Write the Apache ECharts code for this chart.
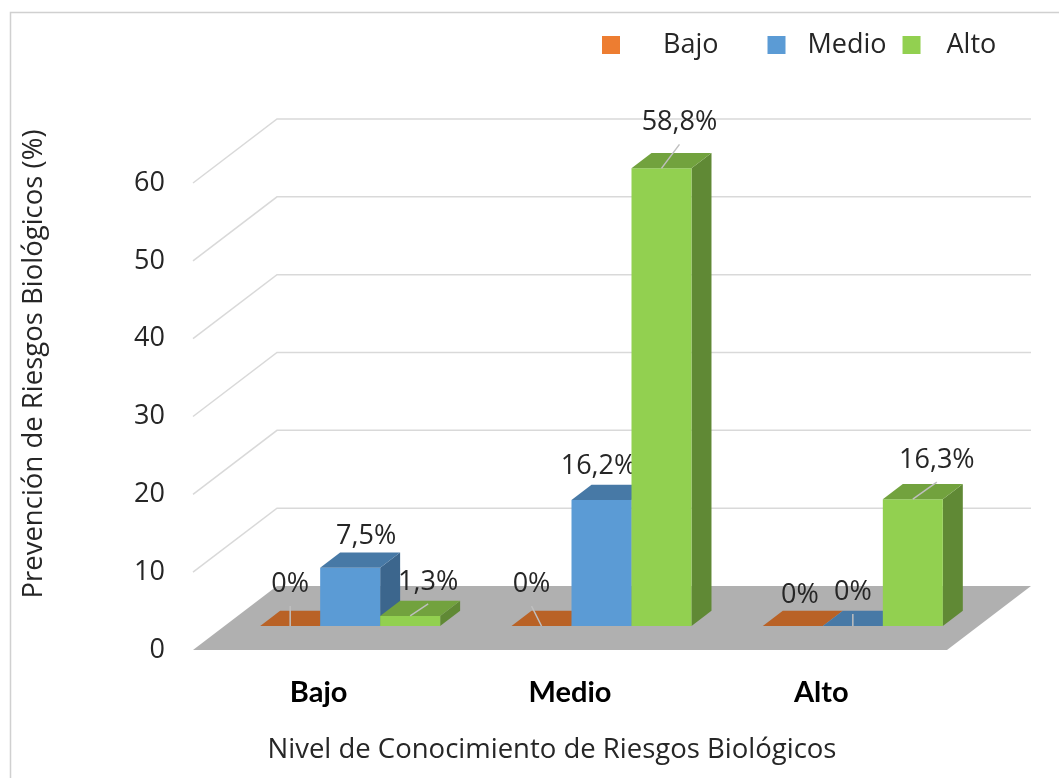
<!DOCTYPE html>
<html>
<head>
<meta charset="utf-8">
<script src="https://cdn.jsdelivr.net/npm/echarts@6/dist/echarts.min.js"></script>
<style>
html,body{margin:0;padding:0;background:#fff;}
#chart{width:1059px;height:778px;}
</style>
</head>
<body>
<div id="chart"></div>
<script>
// ---- data ----
var categories = ['Bajo', 'Medio', 'Alto'];
var seriesNames = ['Bajo', 'Medio', 'Alto'];
var bajoValues = [0, 0, 0];
var medioValues = [7.5, 16.2, 0];
var altoValues = [1.3, 58.8, 16.3];
var yTicks = [0, 10, 20, 30, 40, 50, 60];

// ---- style / layout ----
var colors = ['#ED7D31', '#5B9BD5', '#92D050'];
var DEPTH = {x: 84, y: -64};     // full depth vector of the floor in px
var F0 = 0.375, F1 = 0.613;      // bar front/back depth fraction
var BAR_FRAC = 0.2387;           // bar width / band width
var FONT = '"Open Sans", sans-serif';
// label offset relative to bar front-top centre [dx, dy, leader]
var labelLayout = [
  [[0, -42, 1], [-10, -42, 1], [7, -31, 0]],
  [[16, -31, 0], [-3, -34, 0], [0, -34, 1]],
  [[18, -34, 1], [18, -46, 1], [24, -39, 1]]
];

function shade(hex, k) {
  var n = parseInt(hex.slice(1), 16);
  var r = Math.round(((n >> 16) & 255) * k), g = Math.round(((n >> 8) & 255) * k), b = Math.round((n & 255) * k);
  return 'rgb(' + r + ',' + g + ',' + b + ')';
}
function fmt(v) { return v === 0 ? '0%' : v.toFixed(1).replace('.', ',') + '%'; }

function wallRender(params, api) {
  var v = api.value(1);
  var cs = params.coordSys;
  var L = cs.x, R = cs.x + cs.width;
  var y = api.coord([0, v])[1];
  if (v === 0) {
    return {
      type: 'polygon',
      shape: {points: [[L, y], [R, y], [R + DEPTH.x, y + DEPTH.y], [L + DEPTH.x, y + DEPTH.y]]},
      style: {fill: '#B0B0B0', stroke: null}
    };
  }
  return {
    type: 'polyline',
    shape: {points: [[L, y], [L + DEPTH.x, y + DEPTH.y], [R + DEPTH.x, y + DEPTH.y]]},
    style: {stroke: '#D9D9D9', lineWidth: 1.5, fill: null}
  };
}

function makeBarRender(s) {
  return function (params, api) {
    var cat = api.value(0), v = api.value(1);
    var base = api.coord([cat, 0]);
    var top = api.coord([cat, v]);
    var bw = api.size([1, 0])[0];
    var w = bw * BAR_FRAC;
    var xl = base[0] + (s - 1.5) * w;
    var xr = xl + w;
    var y0 = base[1], y1 = top[1];
    function P(x, y, f) { return [x + DEPTH.x * f, y + DEPTH.y * f]; }
    var c = colors[s];
    var children = [];
    if (v > 0) {
      children.push({type: 'polygon', shape: {points: [P(xr, y1, F0), P(xr, y0, F0), P(xr, y0, F1), P(xr, y1, F1)]},
        style: {fill: shade(c, 0.66)}});
      children.push({type: 'polygon', shape: {points: [P(xl, y1, F0), P(xr, y1, F0), P(xr, y0, F0), P(xl, y0, F0)]},
        style: {fill: c}});
    }
    children.push({type: 'polygon', shape: {points: [P(xl, y1, F0), P(xr, y1, F0), P(xr, y1, F1), P(xl, y1, F1)]},
      style: {fill: shade(c, 0.78)}});
    // label
    var pt = P((xl + xr) / 2, y1, F0);
    var lay = labelLayout[s][cat];
    var lx = pt[0] + lay[0], ly = pt[1] + lay[1];
    if (lay[2]) {
      children.push({type: 'line', shape: {x1: pt[0], y1: pt[1], x2: lx, y2: ly + 22},
        style: {stroke: '#BFBFBF', lineWidth: 1.5}});
    }
    children.push({type: 'text', x: lx, y: ly,
      style: {text: fmt(v), align: 'center', verticalAlign: 'middle', font: '27px ' + FONT, fill: '#262626'}});
    return {type: 'group', children: children};
  };
}

var seriesData = [bajoValues, medioValues, altoValues];
var series = [{
  type: 'custom',
  name: '_walls',
  renderItem: wallRender,
  data: yTicks.map(function (t) { return [0, t]; }),
  encode: {x: 0, y: 1},
  clip: false,
  silent: true,
  z: 1
}];
seriesData.forEach(function (vals, s) {
  series.push({
    type: 'custom',
    name: seriesNames[s],
    itemStyle: {color: colors[s]},
    renderItem: makeBarRender(s),
    data: vals.map(function (v, i) { return [i, v]; }),
    encode: {x: 0, y: 1},
    clip: false,
    z: 2 + s
  });
});

var chart = echarts.init(document.getElementById('chart'), null, {renderer: 'canvas'});
chart.setOption({
  animation: false,
  backgroundColor: '#ffffff',
  grid: {left: 193, right: 112, top: 183, bottom: 128, containLabel: false},
  legend: {
    data: [
      {name: 'Bajo', textStyle: {padding: [0, 33, 0, 38]}},
      {name: 'Medio', textStyle: {padding: [0, 0, 0, 17]}},
      {name: 'Alto', textStyle: {padding: [0, 0, 0, 21]}}
    ],
    left: 597, top: 25,
    icon: 'rect', itemWidth: 18, itemHeight: 18, itemGap: 16,
    textStyle: {fontFamily: FONT, fontSize: 27, color: '#262626', lineHeight: 30}
  },
  xAxis: {
    type: 'category',
    data: categories,
    axisLine: {show: false}, axisTick: {show: false}, splitLine: {show: false},
    axisLabel: {margin: 28, fontFamily: 'Lato, sans-serif', fontWeight: 'bold', fontSize: 29, color: '#000'}
  },
  yAxis: {
    type: 'value', min: 0, max: 60, interval: 10,
    axisLine: {show: false}, axisTick: {show: false}, splitLine: {show: false},
    axisLabel: {margin: 28, fontFamily: FONT, fontSize: 27, color: '#262626'}
  },
  series: series,
  graphic: [
    {type: 'rect', left: 8, top: 10, shape: {x: 0, y: 0, width: 1200, height: 900},
      style: {fill: null, stroke: '#D0D0D0', lineWidth: 1.5}, silent: true, z: -10},
    {type: 'text', x: 34, y: 364, rotation: Math.PI / 2,
      style: {text: 'Prevención de Riesgos Biológicos (%)', align: 'center', verticalAlign: 'middle',
        font: '27.5px ' + FONT, fill: '#262626'}},
    {type: 'text', x: 552, y: 750,
      style: {text: 'Nivel de Conocimiento de Riesgos Biológicos', align: 'center', verticalAlign: 'middle',
        font: '27.5px ' + FONT, fill: '#262626'}}
  ]
});
</script>
</body>
</html>
